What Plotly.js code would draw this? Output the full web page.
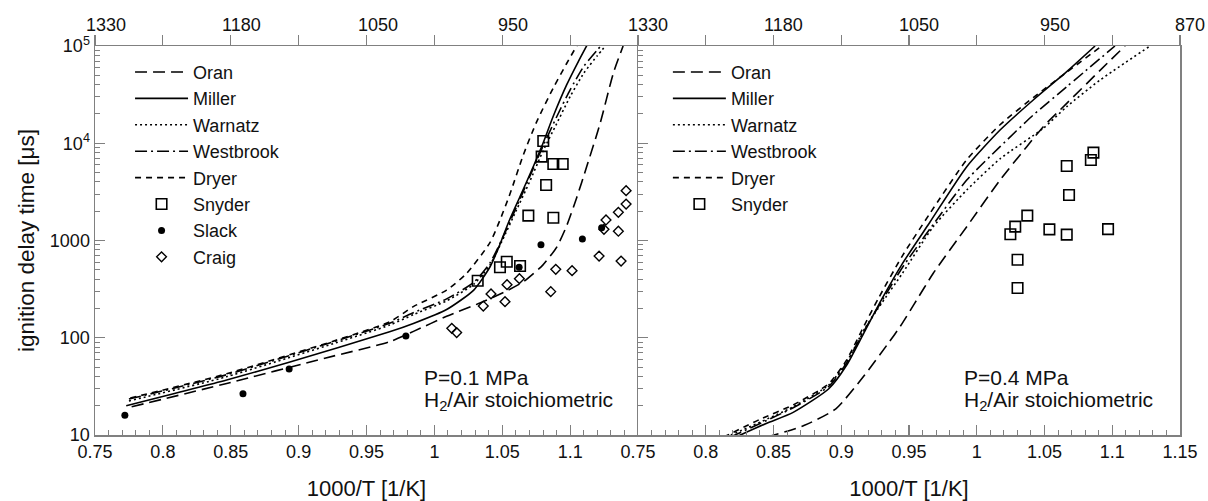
<!DOCTYPE html>
<html>
<head>
<meta charset="utf-8">
<script src="https://cdn.plot.ly/plotly-3.0.1.min.js"></script>
<style>html,body{margin:0;padding:0;background:#fff}#chart{width:1208px;height:501px}</style>
</head>
<body>
<div id="chart"></div>
<script>
// ---------- tick labels ----------
const xTickValsLeft = [0.75, 0.8, 0.85, 0.9, 0.95, 1.0, 1.05, 1.1];
const xTickTextLeft = ['0.75', '0.8', '0.85', '0.9', '0.95', '1', '1.05', '1.1'];
const xTickValsRight = [0.75, 0.8, 0.85, 0.9, 0.95, 1.0, 1.05, 1.1, 1.15];
const xTickTextRight = ['0.75', '0.8', '0.85', '0.9', '0.95', '1', '1.05', '1.1', '1.15'];
const tTickValsLeft = [0.75, 0.85, 0.95, 1.05];
const tTickTextLeft = ['1330', '1180', '1050', '950'];
const tTickValsRight = [0.75, 0.85, 0.95, 1.05, 1.15];
const tTickTextRight = ['1330', '1180', '1050', '950', '870'];
const yTickVals = [10, 100, 1000, 10000, 100000];
const yTickText = ['10', '100', '1000', '10<sup>4</sup>', '10<sup>5</sup>'];

// ---------- P = 0.1 MPa (left panel) ----------
const oranL_x = [0.777, 0.847, 0.92, 0.967, 0.985, 1.009, 1.034, 1.053, 1.066, 1.08, 1.09, 1.0974, 1.1048, 1.1122, 1.122, 1.1318, 1.139];
const oranL_y = [19.5, 33.9, 62, 91, 117, 166, 229, 302, 380, 562, 851, 1413, 2754, 5754, 15850, 52500, 100000];
const millerL_x = [0.773, 0.847, 0.893, 0.967, 0.985, 1.009, 1.029, 1.041, 1.048, 1.055, 1.063, 1.071, 1.08, 1.0876, 1.0974, 1.106, 1.114];
const millerL_y = [20, 36.8, 56, 115, 141, 195, 309, 537, 891, 1585, 2818, 5012, 10000, 19050, 39800, 69200, 112200];
const warnatzL_x = [0.775, 0.847, 0.967, 0.985, 1.009, 1.029, 1.041, 1.05, 1.06, 1.07, 1.08, 1.09, 1.10, 1.11, 1.12, 1.127];
const warnatzL_y = [22.4, 39.8, 135, 174, 240, 355, 562, 1000, 1995, 3981, 8318, 15850, 30200, 52500, 79400, 104700];
const westbrookL_x = [0.775, 0.847, 0.967, 0.985, 1.009, 1.029, 1.041, 1.05, 1.06, 1.07, 1.08, 1.09, 1.10, 1.11, 1.12, 1.124];
const westbrookL_y = [23.4, 41.7, 141, 182, 251, 372, 589, 1047, 2138, 4467, 9333, 18620, 35480, 61660, 91200, 104700];
const dryerL_x = [0.776, 0.847, 0.967, 0.9845, 1.009, 1.0236, 1.041, 1.048, 1.0557, 1.0655, 1.0753, 1.0876, 1.0974, 1.106];
const dryerL_y = [24, 42.7, 146, 209, 309, 457, 955, 1585, 3020, 7590, 16600, 37150, 66070, 107000];
const snyderL_x = [1.0802, 1.079, 1.0876, 1.0945, 1.0823, 1.0692, 1.0876, 1.0533, 1.0483, 1.0631, 1.0319];
const snyderL_y = [10540, 7280, 6120, 6120, 3720, 1800, 1715, 605, 530, 547, 386];
const slackL_x = [0.772, 0.859, 0.893, 0.979, 1.0624, 1.0785, 1.109, 1.1232];
const slackL_y = [16, 26.5, 47.7, 104, 531, 906, 1036, 1356];
const craigL_x = [1.1412, 1.1412, 1.1355, 1.1264, 1.1249, 1.1355, 1.1213, 1.1375, 1.0894, 1.1014, 1.0626, 1.0535, 1.0857, 1.0417, 1.036, 1.052, 1.0128, 1.0164];
const craigL_y = [3250, 2370, 1950, 1625, 1303, 1245, 692, 615, 506, 489, 405, 351, 298, 282, 212, 235, 125, 113];

// ---------- P = 0.4 MPa (right panel) ----------
const oranR_x = [0.845, 0.8724, 0.896, 0.9171, 0.9355, 0.9434, 0.954, 0.9679, 0.9926, 1.0172, 1.0369, 1.0491, 1.0664, 1.091, 1.1094];
const oranR_y = [9.5, 12.5, 18.6, 41.1, 91, 130, 224, 460, 1387, 4188, 9226, 14800, 25700, 56200, 100000];
const millerR_x = [0.822, 0.845, 0.8645, 0.8908, 0.9039, 0.9171, 0.9303, 0.945, 0.9655, 0.9926, 1.0172, 1.0417, 1.0664, 1.0873];
const millerR_y = [9.5, 13.2, 17.1, 29.9, 52.1, 115, 255, 575, 1549, 5741, 13680, 27860, 54450, 100000];
const warnatzR_x = [0.815, 0.8645, 0.8908, 0.9039, 0.9171, 0.93, 0.945, 0.9679, 0.9926, 1.0172, 1.0491, 1.0664, 1.091, 1.1279];
const warnatzR_y = [9.5, 19.5, 32.7, 56.2, 123, 229, 457, 1387, 3304, 6918, 14260, 23770, 44670, 100000];
const westbrookR_x = [0.818, 0.8645, 0.8908, 0.9039, 0.9171, 0.93, 0.945, 0.9655, 0.9926, 1.0172, 1.0417, 1.0664, 1.102];
const westbrookR_y = [9.5, 19.1, 31.6, 55, 120, 240, 525, 1318, 4188, 9226, 19500, 38100, 100000];
const dryerR_x = [0.813, 0.84, 0.8645, 0.8908, 0.9039, 0.9171, 0.9276, 0.945, 0.9655, 0.9926, 1.0172, 1.0417, 1.0664, 1.0922];
const dryerR_y = [9.5, 14.5, 20.4, 33.7, 58.9, 135, 257, 692, 1905, 6761, 15490, 29510, 53700, 100000];
const snyderR_x = [1.0861, 1.0842, 1.0664, 1.0681, 1.0373, 1.0284, 1.0248, 1.0536, 1.0664, 1.0969, 1.0301, 1.0301];
const snyderR_y = [8000, 6730, 5840, 2940, 1800, 1390, 1160, 1300, 1150, 1310, 635, 325];

// ---------- styles ----------
const FONT = 'Liberation Sans, Arial, Helvetica, sans-serif';
const AX = '#808080';
const TXT = '#111111';
const dashes = {
  Oran: '12px,6px',
  Miller: 'solid',
  Warnatz: '2px,3px',
  Westbrook: '12px,4px,2px,4px',
  Dryer: '6px,5px'
};

function lineTrace(name, x, y, xa, ya, leg) {
  return {x: x, y: y, name: name, type: 'scatter', mode: 'lines', xaxis: xa, yaxis: ya,
    legend: leg, line: {color: '#000', width: 1.6, dash: dashes[name], shape: 'spline', smoothing: 0.6},
    hoverinfo: 'skip'};
}

const traces = [
  lineTrace('Oran', oranL_x, oranL_y, 'x', 'y', 'legend'),
  lineTrace('Miller', millerL_x, millerL_y, 'x', 'y', 'legend'),
  lineTrace('Warnatz', warnatzL_x, warnatzL_y, 'x', 'y', 'legend'),
  lineTrace('Westbrook', westbrookL_x, westbrookL_y, 'x', 'y', 'legend'),
  lineTrace('Dryer', dryerL_x, dryerL_y, 'x', 'y', 'legend'),
  {x: snyderL_x, y: snyderL_y, name: 'Snyder', type: 'scatter', mode: 'markers', xaxis: 'x', yaxis: 'y', legend: 'legend',
   marker: {symbol: 'square-open', size: 10.5, color: '#000', line: {color: '#000', width: 1.6}}},
  {x: slackL_x, y: slackL_y, name: 'Slack', type: 'scatter', mode: 'markers', xaxis: 'x', yaxis: 'y', legend: 'legend',
   marker: {symbol: 'circle', size: 7, color: '#000'}},
  {x: craigL_x, y: craigL_y, name: 'Craig', type: 'scatter', mode: 'markers', xaxis: 'x', yaxis: 'y', legend: 'legend',
   marker: {symbol: 'diamond-open', size: 7.5, color: '#000', line: {color: '#000', width: 1.4}}},

  lineTrace('Oran', oranR_x, oranR_y, 'x2', 'y2', 'legend2'),
  lineTrace('Miller', millerR_x, millerR_y, 'x2', 'y2', 'legend2'),
  lineTrace('Warnatz', warnatzR_x, warnatzR_y, 'x2', 'y2', 'legend2'),
  lineTrace('Westbrook', westbrookR_x, westbrookR_y, 'x2', 'y2', 'legend2'),
  lineTrace('Dryer', dryerR_x, dryerR_y, 'x2', 'y2', 'legend2'),
  {x: snyderR_x, y: snyderR_y, name: 'Snyder', type: 'scatter', mode: 'markers', xaxis: 'x2', yaxis: 'y2', legend: 'legend2',
   marker: {symbol: 'square-open', size: 10.5, color: '#000', line: {color: '#000', width: 1.6}}},
  // invisible carriers for the top temperature axes
  {x: [0.75], y: [10], xaxis: 'x3', yaxis: 'y', type: 'scatter', mode: 'markers', marker: {opacity: 0}, showlegend: false, hoverinfo: 'skip'},
  {x: [0.75], y: [10], xaxis: 'x4', yaxis: 'y2', type: 'scatter', mode: 'markers', marker: {opacity: 0}, showlegend: false, hoverinfo: 'skip'}
];

// log minor ticks 2..9 per decade
const yMinor = [];
for (let d = 10; d < 100000; d *= 10) { for (let k = 2; k <= 9; k++) yMinor.push(k * d); }

const split = 0.5005;
const tickFont = {family: FONT, size: 18, color: TXT};
const baseX = {
  range: [0.75, 1.15], tickmode: 'array',
  showline: true, linecolor: AX, linewidth: 1.5, ticks: 'inside', ticklen: 10, tickwidth: 1.2, tickcolor: AX,
  minor: {tickmode: 'linear', tick0: 0.75, dtick: 0.01, ticks: 'inside', ticklen: 5, tickwidth: 1, tickcolor: AX, showgrid: false},
  showgrid: false, zeroline: false, tickfont: tickFont,
  title: {text: '1000/T [1/K]', font: {family: FONT, size: 22, color: TXT}, standoff: 19}
};
const baseTop = {
  range: [0.75, 1.15], tickmode: 'linear', tick0: 0.75, dtick: 0.05, side: 'top', showticklabels: false,
  showline: true, linecolor: AX, linewidth: 1.5, ticks: 'outside', ticklen: 10, tickwidth: 1.2, tickcolor: AX,
  showgrid: false, zeroline: false
};
const baseY = {
  type: 'log', range: [1, 5], tickmode: 'array', tickvals: yTickVals,
  showline: true, linecolor: AX, linewidth: 1.5, ticks: 'inside', ticklen: 10, tickwidth: 1.2, tickcolor: AX,
  minor: {tickmode: 'array', tickvals: yMinor, ticks: 'inside', ticklen: 5, tickwidth: 1, tickcolor: AX, showgrid: false},
  showgrid: false, zeroline: false, tickfont: tickFont
};

const annFont = {family: FONT, size: 21, color: TXT};
const legFont = {family: FONT, size: 18, color: TXT};

// temperature labels of the top axes
const topLabels = [];
tTickValsLeft.forEach((v, i) => topLabels.push({xref: 'x', yref: 'paper', x: v, y: 1, yanchor: 'middle', xanchor: 'center',
  xshift: 11, yshift: 21, text: tTickTextLeft[i], showarrow: false, font: tickFont}));
tTickValsRight.forEach((v, i) => topLabels.push({xref: 'x2', yref: 'paper', x: v, y: 1, yanchor: 'middle', xanchor: 'center',
  xshift: 10, yshift: 21, text: tTickTextRight[i], showarrow: false, font: tickFont}));

const layout = {
  width: 1208, height: 501,
  margin: {l: 95, r: 28, t: 46, b: 66},
  paper_bgcolor: '#fff', plot_bgcolor: '#fff',
  font: {family: FONT, color: TXT},
  showlegend: true,
  xaxis: Object.assign({}, baseX, {domain: [0, split], anchor: 'y', tickvals: xTickValsLeft, ticktext: xTickTextLeft}),
  xaxis2: Object.assign({}, baseX, {domain: [split, 1], anchor: 'y2', tickvals: xTickValsRight, ticktext: xTickTextRight}),
  xaxis3: Object.assign({}, baseTop, {overlaying: 'x', anchor: 'y'}),
  xaxis4: Object.assign({}, baseTop, {overlaying: 'x2', anchor: 'y2'}),
  yaxis: Object.assign({}, baseY, {domain: [0, 1], anchor: 'x', ticktext: yTickText,
    title: {text: 'ignition delay time [μs]', font: {family: FONT, size: 22.5, color: TXT}, standoff: 9}}),
  yaxis2: Object.assign({}, baseY, {domain: [0, 1], anchor: 'x2', showticklabels: false, mirror: true, ticktext: yTickText}),
  legend: {x: 0.0323, y: 0.980, xanchor: 'left', yanchor: 'top', bgcolor: 'rgba(0,0,0,0)', borderwidth: 0,
    itemwidth: 53, font: legFont, traceorder: 'normal', itemclick: false},
  legend2: {x: 0.528, y: 0.980, xanchor: 'left', yanchor: 'top', bgcolor: 'rgba(0,0,0,0)', borderwidth: 0,
    itemwidth: 53, font: legFont, traceorder: 'normal', itemclick: false},
  annotations: topLabels.concat([
    {xref: 'x', yref: 'paper', x: 0.991, y: 0.1491, xanchor: 'left', yanchor: 'middle', text: 'P=0.1 MPa', showarrow: false, font: annFont},
    {xref: 'x', yref: 'paper', x: 0.991, y: 0.087, xanchor: 'left', yanchor: 'middle', text: 'H<sub>2</sub>/Air stoichiometric', showarrow: false, font: annFont},
    {xref: 'x2', yref: 'paper', x: 0.989, y: 0.1491, xanchor: 'left', yanchor: 'middle', text: 'P=0.4 MPa', showarrow: false, font: annFont},
    {xref: 'x2', yref: 'paper', x: 0.989, y: 0.087, xanchor: 'left', yanchor: 'middle', text: 'H<sub>2</sub>/Air stoichiometric', showarrow: false, font: annFont}
  ])
};

Plotly.newPlot('chart', traces, layout, {displayModeBar: false, staticPlot: true});
</script>
</body>
</html>
